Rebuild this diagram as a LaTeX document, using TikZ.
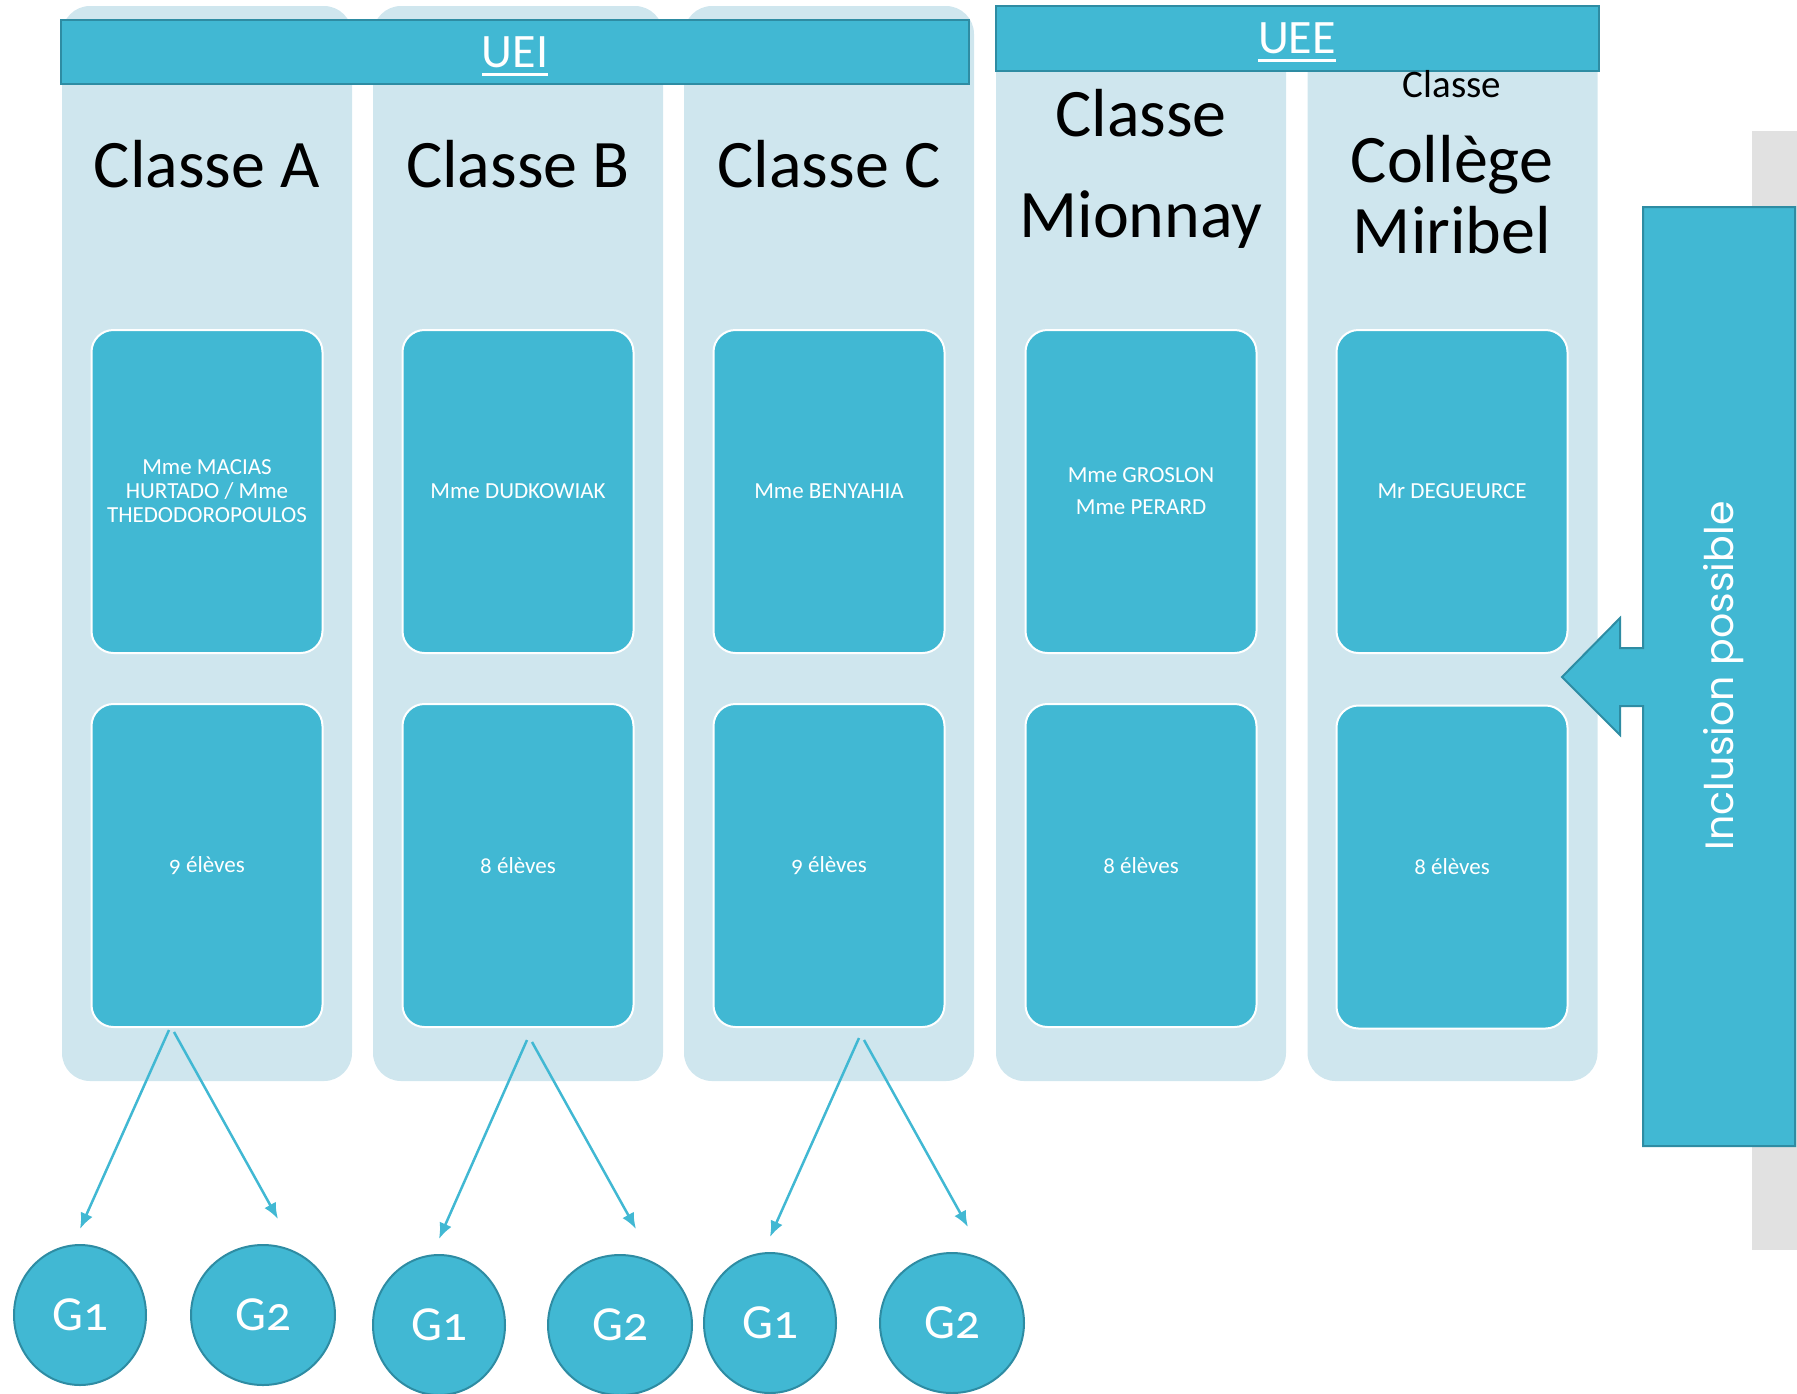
\documentclass[tikz,border=0pt]{standalone}
\usepackage{fontspec}
\setmainfont{Carlito}[Numbers=OldStyle]
\newfontfamily\roundfont{Poppins}
\usetikzlibrary{shapes.geometric,arrows.meta}
\definecolor{uiblue}{RGB}{65,184,211}
\definecolor{uilight}{RGB}{207,230,238}
\definecolor{uiedge}{RGB}{46,140,163}
\definecolor{uigray}{RGB}{225,225,225}
\newcommand{\barul}[1]{\vtop{\hbox{#1}\kern6pt\hrule height 3pt}}
\tikzset{
	col/.style={rectangle,fill=uilight,rounded corners=28pt,minimum width=290pt,minimum height=1075pt,inner sep=0pt},
	bar/.style={rectangle,fill=uiblue,draw=uiedge,line width=2pt,inner sep=0pt},
	bartext/.style={anchor=base,text=white,inner sep=0pt,font=\fontsize{48}{50}\selectfont},
	box/.style={rectangle,fill=uiblue,draw=white,line width=2pt,rounded corners=22pt,minimum width=231pt,minimum height=323pt,text=white,align=center,font=\fontsize{23}{24}\selectfont},
	title/.style={anchor=base,inner sep=0pt,font=\fontsize{68}{70}\selectfont},
	grp/.style={ellipse,fill=uiblue,draw=uiedge,line width=2pt,minimum height=140pt,minimum width=#1,inner sep=0pt,text=white,font=\fontsize{49}{51}\selectfont},
	arr/.style={draw=uiblue,line width=2.5pt,-{Latex[length=16pt,width=13pt]}}
}
\begin{document}
\begin{tikzpicture}[x=1pt,y=-1pt]
	\useasboundingbox (0,0) rectangle (1797,1393);

	% columns
	\node [col] (colA) at (207,543.5) {};
	\node [col] (colB) at (518,543.5) {};
	\node [col] (colC) at (829,543.5) {};
	\node [col] (colM) at (1141,543.5) {};
	\node [col] (colD) at (1452.5,543.5) {};

	\node [bar,minimum width=908pt,minimum height=64pt] (barUEI) at (515,52) {};
	\node [bar,minimum width=603pt,minimum height=65pt] (barUEE) at (1297.5,38.5) {};
	\node [bartext] (uei) at (515,67) {\barul{UEI}};
	\node [bartext] (uee) at (1297,53) {\barul{UEE}};

	\node [title] (tA) at (207,187) {Classe A};
	\node [title] (tB) at (518,187) {Classe B};
	\node [title] (tC) at (829,187) {Classe C};
	\node [title] (tM1) at (1141,136) {Classe};
	\node [title] (tM2) at (1141,237) {Mionnay};
	\node [title,font=\fontsize{39}{40}\selectfont] (tD1) at (1452,97) {Classe};
	\node [title] (tD2) at (1452,182) {Collège};
	\node [title] (tD3) at (1452,253) {Miribel};

	% teachers and pupils
	\node [box] (tchA) at (207,491.5) {Mme MACIAS\\HURTADO / Mme\\THEDODOROPOULOS};
	\node [box] (tchB) at (518,491.5) {Mme DUDKOWIAK};
	\node [box] (tchC) at (829,491.5) {Mme BENYAHIA};
	\node [box,font=\fontsize{23}{32}\selectfont] (tchM) at (1141,491.5) {Mme GROSLON\\Mme PERARD};
	\node [box] (tchD) at (1452,491.5) {Mr DEGUEURCE};
	\node [box] (nbA) at (207,865.5) {9 élèves};
	\node [box] (nbB) at (518,865.5) {8 élèves};
	\node [box] (nbC) at (829,865.5) {9 élèves};
	\node [box] (nbM) at (1141,865.5) {8 élèves};
	\node [box] (nbD) at (1452,867) {8 élèves};

	% inclusion
	\fill [uigray] (1752,131) rectangle (1797,1250);
	\draw [fill=uiblue,draw=uiedge,line width=2pt] (1643,207) -- (1795,207) -- (1795,1146) -- (1643,1146) -- (1643,706) -- (1620,706) -- (1620,735) -- (1562,677) -- (1620,618) -- (1620,648) -- (1643,648) -- cycle;
	\node [rotate=90,text=white,font=\roundfont\fontsize{39.5}{41}\selectfont] (incl) at (1724,676) {Inclusion possible};

	% groups
	\node [grp=132pt] (gA1) at (80,1315) {G1};
	\node [grp=144pt] (gA2) at (263,1315) {G2};
	\node [grp=132pt] (gB1) at (439,1325) {G1};
	\node [grp=144pt] (gB2) at (620,1325) {G2};
	\node [grp=132pt] (gC1) at (770,1323) {G1};
	\node [grp=144pt] (gC2) at (952,1323) {G2};

	\coordinate (sA1) at (169,1030);
	\coordinate (sA2) at (174,1032);
	\coordinate (sB1) at (527,1040);
	\coordinate (sB2) at (532,1042);
	\coordinate (sC1) at (859,1038);
	\coordinate (sC2) at (864,1040);
	\draw [arr] (sA1) -- ([yshift=15pt]gA1.north);
	\draw [arr] (sA2) -- ([shift={(15pt,25pt)}]gA2.north);
	\draw [arr] (sB1) -- ([yshift=15pt]gB1.north);
	\draw [arr] (sB2) -- ([shift={(16pt,25pt)}]gB2.north);
	\draw [arr] (sC1) -- ([yshift=15pt]gC1.north);
	\draw [arr] (sC2) -- ([shift={(16pt,25pt)}]gC2.north);
\end{tikzpicture}
\end{document}
